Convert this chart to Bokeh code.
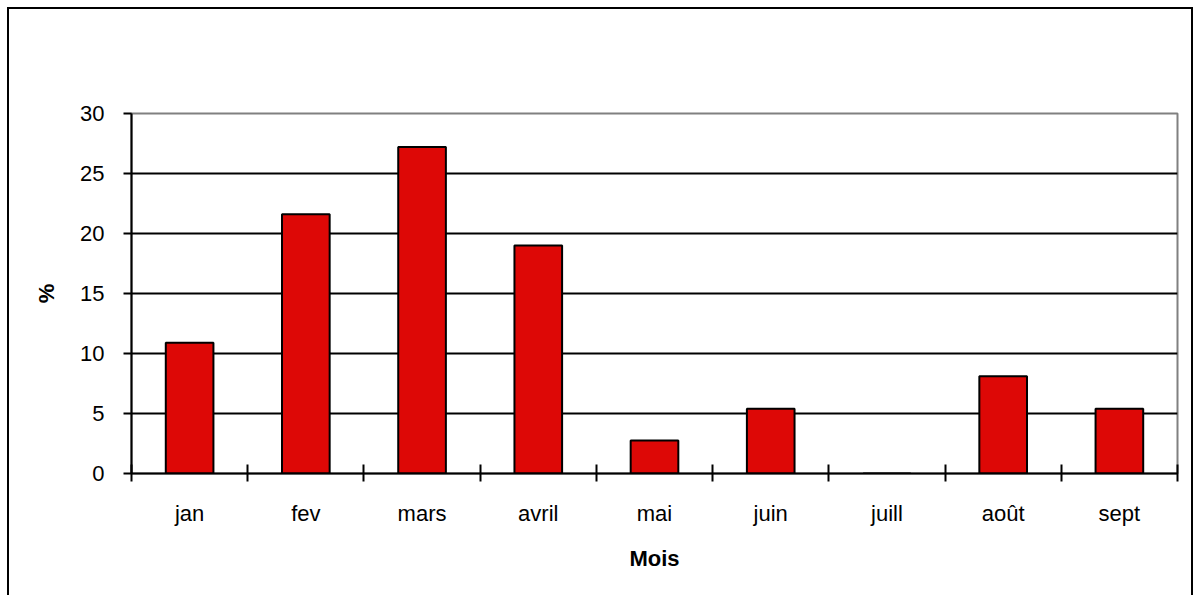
from bokeh.plotting import figure
from bokeh.models import Range1d, FixedTicker, ColumnDataSource
from bokeh.embed import file_html
from bokeh.resources import INLINE

months = ["jan", "fev", "mars", "avril", "mai", "juin", "juill", "août", "sept"]
values = [10.9, 21.6, 27.2, 19.0, 2.75, 5.4, 0, 8.1, 5.4]
y_ticks = [0, 5, 10, 15, 20, 25, 30]
y_title = "%"
x_title = "Mois"

FONT = "Liberation Sans"
FS = "22px"

xs = [i + 0.5 for i in range(len(months))]
src = ColumnDataSource(dict(x=xs, top=values))

p = figure(
    output_backend="svg", toolbar_location=None,
    frame_width=1046, frame_height=360,
    min_border_left=122, min_border_right=14, min_border_top=104, min_border_bottom=122,
    x_range=Range1d(0, len(months)), y_range=Range1d(0, 30),
    background_fill_color="white", border_fill_color="white",
)
p.styles = {
    "margin-left": "7px", "margin-top": "7px",
    "border-left": "2px solid black", "border-top": "2px solid black",
    "border-right": "2px solid black",
}
p.outline_line_color = "#808080"
p.outline_line_width = 2

p.vbar(x="x", top="top", width=0.41, bottom=0, source=src,
       fill_color="#DD0806", line_color="black", line_width=2)

# x axis
xa = p.xaxis[0]
xa.ticker = FixedTicker(ticks=xs, minor_ticks=list(range(len(months) + 1)))
xa.major_label_overrides = {x: m for x, m in zip(xs, months)}
xa.major_tick_out = 0
xa.major_tick_in = 0
xa.minor_tick_out = 8
xa.minor_tick_in = 9
xa.minor_tick_line_color = "black"
xa.minor_tick_line_width = 2
xa.axis_line_color = "black"
xa.axis_line_width = 2
xa.major_label_text_font = FONT
xa.major_label_text_font_size = FS
xa.major_label_text_color = "black"
xa.major_label_standoff = 19
xa.axis_label = x_title
xa.axis_label_text_font = FONT
xa.axis_label_text_font_style = "bold"
xa.axis_label_text_font_size = FS
xa.axis_label_text_color = "black"
xa.axis_label_standoff = 17

# y axis
ya = p.yaxis[0]
ya.ticker = FixedTicker(ticks=y_ticks, minor_ticks=[])
ya.major_tick_out = 8
ya.major_tick_in = 0
ya.major_tick_line_color = "black"
ya.major_tick_line_width = 2
ya.axis_line_color = "black"
ya.axis_line_width = 2
ya.major_label_text_font = FONT
ya.major_label_text_font_size = FS
ya.major_label_text_color = "black"
ya.major_label_standoff = 19
ya.axis_label = y_title
ya.axis_label_text_font = FONT
ya.axis_label_text_font_style = "bold"
ya.axis_label_text_font_size = FS
ya.axis_label_text_color = "black"
ya.axis_label_standoff = 18

p.xgrid.visible = False
p.ygrid.ticker = FixedTicker(ticks=[5, 10, 15, 20, 25], minor_ticks=[])
p.ygrid.grid_line_color = "black"
p.ygrid.grid_line_width = 2

open("out.html", "w").write(file_html(p, INLINE))
